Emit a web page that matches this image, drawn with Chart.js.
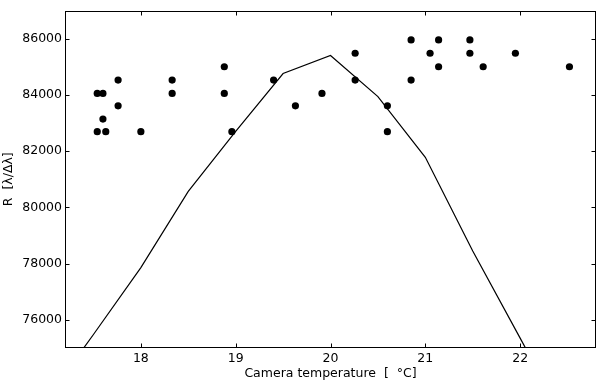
<!DOCTYPE html>
<html>
<head>
<meta charset="utf-8">
<script src="https://cdn.jsdelivr.net/npm/chart.js@4/dist/chart.umd.min.js"></script>
<style>
html,body{margin:0;padding:0;background:#fff;}
canvas{display:block;}
</style>
</head>
<body>
<canvas id="c" width="600" height="384"></canvas>
<script>
// Model curve (resolution vs camera temperature)
const curveT = [17.0, 17.5, 18.0, 18.5, 19.0, 19.5, 20.0, 20.5, 21.0, 21.5, 22.0, 22.5];
const curveR = [73150, 75480, 77860, 80570, 82700, 84760, 85400, 83940, 81780, 78450, 75350, 72250];

// Measured points
const measT = [17.54, 17.60, 17.54, 17.60, 17.63, 17.76, 17.76, 18.00, 18.33, 18.33,
               18.88, 18.88, 18.96, 19.40, 19.63, 19.91, 20.26, 20.26, 20.60, 20.60,
               20.85, 20.85, 21.05, 21.14, 21.14, 21.47, 21.47, 21.61, 21.95, 22.52];
const measR = [84050, 84050, 82690, 83140, 82690, 84525, 83610, 82690, 84525, 84050,
               85000, 84050, 82690, 84525, 83610, 84050, 85480, 84525, 83610, 82690,
               85955, 84525, 85480, 85955, 85000, 85955, 85480, 85000, 85480, 85000];

// Axis ticks
const xTicks = [18, 19, 20, 21, 22];
const yTicks = [76000, 78000, 80000, 82000, 84000, 86000];

const FONT = {family: 'DejaVu Sans', size: 12.5};

const framePlugin = {
  id: 'frame',
  afterDatasetsDraw(chart) {
    const {ctx, chartArea: a, scales: {x, y}} = chart;
    const L = Math.round(a.left) + 0.5, R = Math.round(a.right) - 0.5;
    const T = Math.round(a.top) + 0.5, B = Math.round(a.bottom) - 0.5;
    ctx.save();
    ctx.strokeStyle = '#000';
    ctx.lineWidth = 1;
    ctx.beginPath();
    const tl = 4;
    x.ticks.forEach(t => {
      const px = Math.round(x.getPixelForValue(t.value)) + 0.5;
      ctx.moveTo(px, B); ctx.lineTo(px, B - tl);
      ctx.moveTo(px, T); ctx.lineTo(px, T + tl);
    });
    y.ticks.forEach(t => {
      const py = Math.round(y.getPixelForValue(t.value)) + 0.5;
      ctx.moveTo(L, py); ctx.lineTo(L + tl, py);
      ctx.moveTo(R, py); ctx.lineTo(R - tl, py);
    });
    ctx.stroke();
    ctx.strokeRect(L, T, R - L, B - T);
    ctx.restore();
  }
};

new Chart(document.getElementById('c'), {
  type: 'scatter',
  data: {
    datasets: [
      {
        data: measT.map((t, i) => ({x: t, y: measR[i]})),
        backgroundColor: '#000',
        borderColor: '#000',
        pointRadius: 3.6,
        pointBorderWidth: 0,
        showLine: false
      },
      {
        data: curveT.map((t, i) => ({x: t, y: curveR[i]})),
        showLine: true,
        borderColor: '#000',
        borderWidth: 1.2,
        pointRadius: 0,
        tension: 0,
        fill: false
      }
    ]
  },
  options: {
    responsive: false,
    animation: false,
    events: [],
    layout: {padding: {left: 0, right: 4, top: 3, bottom: 0}},
    plugins: {legend: {display: false}, tooltip: {enabled: false}},
    scales: {
      x: {
        type: 'linear',
        min: 17.2, max: 22.8,
        afterBuildTicks: s => { s.ticks = xTicks.map(v => ({value: v})); },
        afterFit: s => { s.height = 36; },
        grid: {display: false, drawTicks: false},
        border: {display: false},
        ticks: {padding: 3, font: FONT, color: '#000', maxRotation: 0, autoSkip: false,
                callback: v => String(v)},
        title: {display: true, text: 'Camera temperature  [  °C]', font: FONT, color: '#000',
                padding: {top: 0, bottom: 2.5}}
      },
      y: {
        type: 'linear',
        min: 75000, max: 87000,
        afterBuildTicks: s => { s.ticks = yTicks.map(v => ({value: v})); },
        afterFit: s => { s.width = 65; },
        grid: {display: false, drawTicks: false},
        border: {display: false},
        ticks: {padding: 3, font: FONT, color: '#000', autoSkip: false,
                callback: v => String(v)},
        title: {display: true, text: 'R  [λ/Δλ]', font: FONT, color: '#000',
                padding: {top: 1, bottom: 0}}
      }
    }
  },
  plugins: [framePlugin]
});
</script>
</body>
</html>
